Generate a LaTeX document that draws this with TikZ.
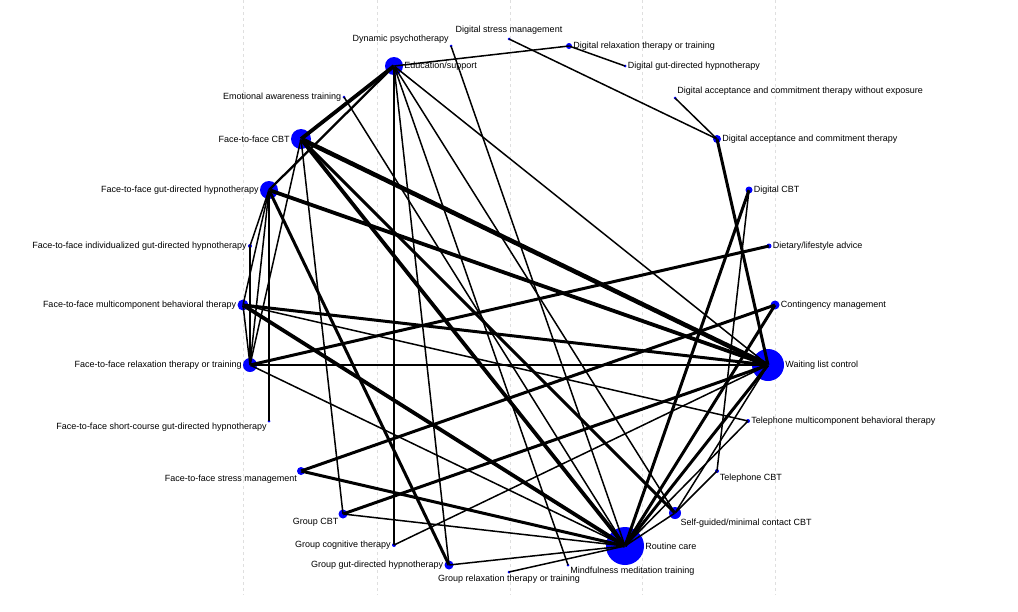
\documentclass[tikz,border=0pt]{standalone}
\usepackage{fontspec}
\setmainfont{Liberation Sans}
\begin{document}
\begin{tikzpicture}[x=1pt,y=-1pt,
  v/.style={circle,fill=blue,inner sep=0pt,minimum size=#1},
  L/.style={label={[font=\fontsize{9}{10}\selectfont,inner sep=1pt]left:#1}},
  R/.style={label={[font=\fontsize{9}{10}\selectfont,inner sep=1pt]right:#1}},
  e1/.style={line width=1.5pt},
  e2/.style={line width=2.3pt},
  e3/.style={line width=3pt},
  e4/.style={line width=3.8pt},
  e5/.style={line width=4.6pt},
  grid/.style={gray!25,dashed,line width=0.8pt}]
\useasboundingbox (0,0) rectangle (1018,611);
\foreach \x in {243,377,510,642,775} \draw[grid] (\x,0) -- (\x,595);
% nodes
\node[v=18pt,R={Education/support}] (eds) at (394,66) {};
\node[v=3pt,label={[font=\fontsize{9}{10}\selectfont,inner sep=1pt]above left:Dynamic psychotherapy}] (dyn) at (451,46) {};
\node[v=3pt,label={[font=\fontsize{9}{10}\selectfont,inner sep=3pt]above:Digital stress management}] (dsm) at (509,39) {};
\node[v=6pt,R={Digital relaxation therapy or training}] (drt) at (569,46) {};
\node[v=3pt,R={Digital gut-directed hypnotherapy}] (dgh) at (625,66) {};
\node[v=3pt,label={[font=\fontsize{9}{10}\selectfont,inner sep=1pt]above right:Digital acceptance and commitment therapy without exposure}] (dactw) at (675,98) {};
\node[v=8pt,R={Digital acceptance and commitment therapy}] (dact) at (717,139) {};
\node[v=7pt,R={Digital CBT}] (dcbt) at (749,190) {};
\node[v=5pt,R={Dietary/lifestyle advice}] (diet) at (769,246) {};
\node[v=9pt,R={Contingency management}] (cont) at (775,305) {};
\node[v=32pt,R={Waiting list control}] (wlc) at (768,365) {};
\node[v=4pt,R={Telephone multicomponent behavioral therapy}] (tmbt) at (748,421) {};
\node[v=4pt,label={[font=\fontsize{9}{10}\selectfont,inner sep=1pt]below right:Telephone CBT}] (tcbt) at (717,471) {};
\node[v=12pt,label={[font=\fontsize{9}{10}\selectfont,inner sep=1pt]below right:Self-guided/minimal contact CBT}] (sg) at (675,513) {};
\node[v=38pt,R={Routine care}] (rc) at (625,546) {};
\node[v=3pt,label={[font=\fontsize{9}{10}\selectfont,inner sep=1pt]below right:Mindfulness meditation training}] (mind) at (568,565) {};
\node[v=3pt,label={[font=\fontsize{9}{10}\selectfont,inner sep=1pt]below:Group relaxation therapy or training}] (grt) at (509,572) {};
\node[v=9pt,L={Group gut-directed hypnotherapy}] (ggh) at (449,565) {};
\node[v=4pt,L={Group cognitive therapy}] (gcog) at (394,545) {};
\node[v=9pt,label={[font=\fontsize{9}{10}\selectfont,inner sep=1pt]below left:Group CBT}] (gcbt) at (343,514) {};
\node[v=8pt,label={[font=\fontsize{9}{10}\selectfont,inner sep=1pt]below left:Face-to-face stress management}] (ffsm) at (301,471) {};
\node[v=3pt,label={[font=\fontsize{9}{10}\selectfont,inner sep=1pt]below left:Face-to-face short-course gut-directed hypnotherapy}] (ffsc) at (269,421) {};
\node[v=14pt,L={Face-to-face relaxation therapy or training}] (ffrt) at (250,365) {};
\node[v=11pt,L={Face-to-face multicomponent behavioral therapy}] (ffmbt) at (243,305) {};
\node[v=4pt,L={Face-to-face individualized gut-directed hypnotherapy}] (ffigh) at (250,246) {};
\node[v=18pt,L={Face-to-face gut-directed hypnotherapy}] (ffgh) at (269,190) {};
\node[v=20pt,L={Face-to-face CBT}] (ffcbt) at (301,139) {};
\node[v=3pt,L={Emotional awareness training}] (eat) at (344,97) {};
% edges
\begin{scope}[on background layer/.style={}]
\draw[e1] (eds.center) -- (drt.center);
\draw[e1] (drt.center) -- (dgh.center);
\draw[e1] (dsm.center) -- (dact.center);
\draw[e1] (dactw.center) -- (dact.center);
\draw[e3] (dact.center) -- (wlc.center);
\draw[e1] (dyn.center) -- (rc.center);
\draw[e4] (eds.center) -- (ffcbt.center);
\draw[e2] (eds.center) -- (ffgh.center);
\draw[e1] (eds.center) -- (gcog.center);
\draw[e1] (eds.center) -- (ggh.center);
\draw[e1] (eds.center) -- (mind.center);
\draw[e1] (eds.center) -- (sg.center);
\draw[e1] (eds.center) -- (wlc.center);
\draw[e1] (eat.center) -- (rc.center);
\draw[e5] (ffcbt.center) -- (wlc.center);
\draw[e4] (ffcbt.center) -- (rc.center);
\draw[e3] (ffcbt.center) -- (sg.center);
\draw[e1] (ffcbt.center) -- (ffrt.center);
\draw[e1] (ffcbt.center) -- (gcbt.center);
\draw[e4] (ffgh.center) -- (wlc.center);
\draw[e3] (ffgh.center) -- (ggh.center);
\draw[e1] (ffgh.center) -- (ffigh.center);
\draw[e1] (ffgh.center) -- (ffmbt.center);
\draw[e1] (ffgh.center) -- (ffrt.center);
\draw[e1] (ffgh.center) -- (ffsc.center);
\draw[e1] (ffigh.center) -- (ffrt.center);
\draw[e3] (ffmbt.center) -- (wlc.center);
\draw[e4] (ffmbt.center) -- (rc.center);
\draw[e1] (ffmbt.center) -- (tmbt.center);
\draw[e1] (ffmbt.center) -- (ffrt.center);
\draw[e1] (ffrt.center) -- (wlc.center);
\draw[e3] (ffrt.center) -- (diet.center);
\draw[e1] (ffrt.center) -- (rc.center);
\draw[e3] (ffsm.center) -- (cont.center);
\draw[e3] (ffsm.center) -- (rc.center);
\draw[e3] (gcbt.center) -- (wlc.center);
\draw[e1] (gcbt.center) -- (rc.center);
\draw[e1] (gcog.center) -- (wlc.center);
\draw[e1] (ggh.center) -- (rc.center);
\draw[e1] (grt.center) -- (rc.center);
\draw[e3] (dcbt.center) -- (rc.center);
\draw[e1] (dcbt.center) -- (tcbt.center);
\draw[e1] (tcbt.center) -- (sg.center);
\draw[e3] (cont.center) -- (rc.center);
\draw[e3] (wlc.center) -- (rc.center);
\draw[e1] (wlc.center) -- (sg.center);
\draw[e1] (tmbt.center) -- (rc.center);
\draw[e1] (sg.center) -- (rc.center);
\end{scope}
% redraw nodes on top
\foreach \n in {eds,dyn,dsm,drt,dgh,dactw,dact,dcbt,diet,cont,wlc,tmbt,tcbt,sg,rc,mind,grt,ggh,gcog,gcbt,ffsm,ffsc,ffrt,ffmbt,ffigh,ffgh,ffcbt,eat}
  \fill[blue] (\n.center) circle ({0.5*\pgfkeysvalueof{/pgf/minimum width}});
\end{tikzpicture}
\end{document}
